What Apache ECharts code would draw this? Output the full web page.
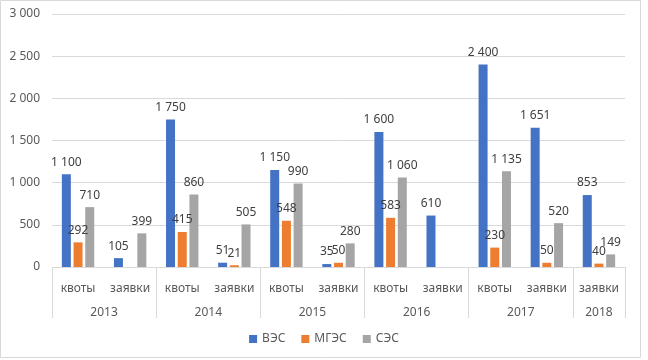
<!DOCTYPE html>
<html><head><meta charset="utf-8">
<script src="https://cdn.jsdelivr.net/npm/echarts@6/dist/echarts.min.js"></script>
<style>html,body{margin:0;padding:0;background:#fff}#c{width:648px;height:360px}</style>
</head><body><div id="c"></div>
<script>
const categories = ['квоты','заявки','квоты','заявки','квоты','заявки','квоты','заявки','квоты','заявки','заявки'];
const years = ['2013','2014','2015','2016','2017','2018'];
const yearSpans = [2,2,2,2,2,1];
const ves  = [1100, 105, 1750, 51, 1150, 35, 1600, 610, 2400, 1651, 853];
const mges = [292, null, 415, 21, 548, 50, 583, null, 230, 50, 40];
const ses  = [710, 399, 860, 505, 990, 280, 1060, null, 1135, 520, 149];
const yTicks = [0, 500, 1000, 1500, 2000, 2500, 3000];

// build half-unit axis for year labels (boundaryGap false, 2 points per category)
const halfData = new Array(categories.length * 2 + 1).fill('');
const tickIdx = new Set([0]);
let pos = 0;
years.forEach((y, i) => {
  halfData[pos + yearSpans[i]] = y;
  pos += yearSpans[i] * 2;
  tickIdx.add(pos);
});

const fmt = v => {
  const s = String(Math.round(v));
  return s.replace(/\B(?=(\d{3})+(?!\d))/g, ' ');
};
const font = 'Noto Sans';
const labelStyle = {show: true, position: 'top', distance: 6, color: '#404040', fontSize: 12, fontFamily: font,
  formatter: p => p.value == null ? '' : fmt(p.value)};

const chart = echarts.init(document.getElementById('c'));
chart.setOption({
  animation: false,
  backgroundColor: '#fff',
  graphic: [{type: 'rect', shape: {x: 0.5, y: 0.5, width: 640, height: 357}, style: {fill: 'none', stroke: '#d9d9d9', lineWidth: 1}, silent: true}],
  grid: {left: 52, right: 23, top: 14, bottom: 93},
  legend: {bottom: 10, left: 'center', itemWidth: 8, itemHeight: 8, itemGap: 16, icon: 'rect',
    textStyle: {color: '#595959', fontSize: 12, fontFamily: font}, data: ['ВЭС','МГЭС','СЭС']},
  xAxis: [
    {type: 'category', data: categories, position: 'bottom',
      axisLine: {show: true, lineStyle: {color: '#d9d9d9'}}, axisTick: {show: false},
      axisLabel: {color: '#595959', fontSize: 12, fontFamily: font, margin: 16, interval: 0}},
    {type: 'category', data: halfData, boundaryGap: false, position: 'bottom',
      axisLine: {show: false},
      axisTick: {show: true, length: 51, lineStyle: {color: '#d9d9d9'}, interval: (i) => tickIdx.has(i)},
      axisLabel: {color: '#595959', fontSize: 12, fontFamily: font, margin: 40, interval: 0}}
  ],
  yAxis: {type: 'value', min: yTicks[0], max: yTicks[yTicks.length-1], interval: 500,
    axisLine: {show: false}, axisTick: {show: false},
    splitLine: {lineStyle: {color: '#d9d9d9'}},
    axisLabel: {color: '#595959', fontSize: 12, fontFamily: font, margin: 12, formatter: fmt}},
  series: [
    {name: 'ВЭС', type: 'bar', data: ves, barWidth: 9, barGap: '30%', itemStyle: {color: '#4472C4'}, label: labelStyle},
    {name: 'МГЭС', type: 'bar', data: mges, barWidth: 9, barGap: '30%', itemStyle: {color: '#ED7D31'}, label: labelStyle},
    {name: 'СЭС', type: 'bar', data: ses, barWidth: 9, barGap: '30%', itemStyle: {color: '#A5A5A5'}, label: labelStyle}
  ]
});
</script></body></html>
